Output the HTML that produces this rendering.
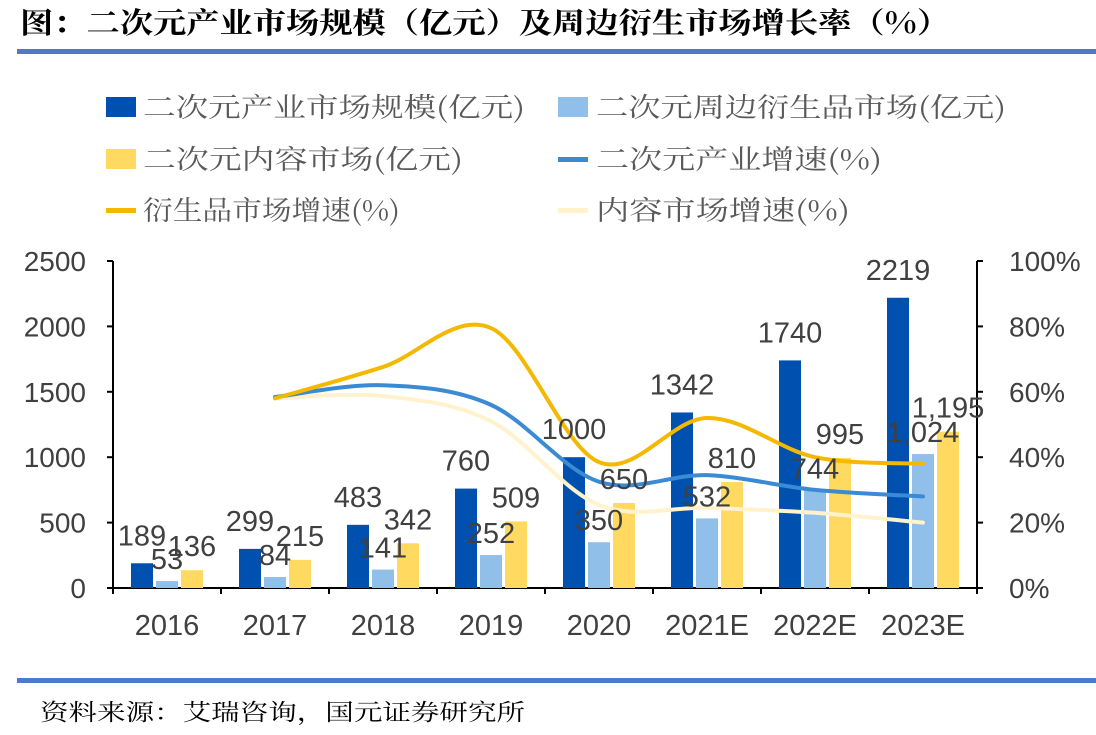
<!DOCTYPE html>
<html><head><meta charset="utf-8">
<style>
body{margin:0;width:1096px;height:730px;background:#fff;overflow:hidden;font-family:"Liberation Sans","Noto Sans CJK SC",sans-serif}
</style></head>
<body>
<svg id="c" width="1096" height="730" xmlns="http://www.w3.org/2000/svg">
<text x="20" y="33" font-size="29" font-weight="bold" fill="#000" textLength="930" lengthAdjust="spacingAndGlyphs" font-family="Noto Serif CJK SC, Noto Sans CJK SC, serif">图：二次元产业市场规模（亿元）及周边衍生市场增长率（%）</text>
<rect x="17" y="49" width="1079" height="5" fill="#4a7cc8"/>
<rect x="17" y="678" width="1079" height="5" fill="#4a7cc8"/>
<text x="40" y="720" font-size="23" fill="#000" textLength="485" lengthAdjust="spacingAndGlyphs" font-family="Noto Serif CJK SC, serif">资料来源：艾瑞咨询，国元证券研究所</text>
<g id="legend" font-size="27" fill="#595959" font-family="Noto Serif CJK SC, Noto Sans CJK SC, serif">
<g><rect x="106" y="97" width="30" height="20" fill="#0050b0"/><text x="143" y="117" textLength="382" lengthAdjust="spacingAndGlyphs">二次元产业市场规模(亿元)</text></g>
<g><rect x="558" y="97" width="30" height="20" fill="#90bfea"/><text x="596" y="117" textLength="410" lengthAdjust="spacingAndGlyphs">二次元周边衍生品市场(亿元)</text></g>
<g><rect x="106" y="149" width="30" height="20" fill="#ffd960"/><text x="143" y="169" textLength="320" lengthAdjust="spacingAndGlyphs">二次元内容市场(亿元)</text></g>
<g><rect x="558" y="157" width="30" height="5" fill="#3a8ad4"/><text x="596" y="169" textLength="286" lengthAdjust="spacingAndGlyphs">二次元产业增速(%)</text></g>
<g><rect x="106" y="208" width="30" height="5" fill="#f5b800"/><text x="143" y="220" textLength="257" lengthAdjust="spacingAndGlyphs">衍生品市场增速(%)</text></g>
<g><rect x="558" y="208" width="30" height="5" fill="#fff2cc"/><text x="596" y="220" textLength="254" lengthAdjust="spacingAndGlyphs">内容市场增速(%)</text></g>
</g>
<g id="plot"></g>
</svg>
<script>
const categories=["2016","2017","2018","2019","2020","2021E","2022E","2023E"];
const industry=[189,299,483,760,1000,1342,1740,2219];
const derivative=[53,84,141,252,350,532,744,1024];
const content=[136,215,342,509,650,810,995,1195];
const derivativeLabels=["53","84","141","252","350","532","744","1,024"];
const contentLabels=["136","215","342","509","650","810","995","1,195"];
const industryGrowth=[null,58.4,62,56,32.5,34.5,30,28];
const derivGrowth=[null,58,67.6,79.5,38.5,52,40,38];
const contentGrowth=[null,58,58.7,51,25.4,24.5,23,20];
const leftTicks=[0,500,1000,1500,2000,2500];
const rightTicks=[0,20,40,60,80,100];

const NS="http://www.w3.org/2000/svg";
const g=document.getElementById('plot');
const X0=113,X1=977,Y0=588,YT=261;
const bw=(X1-X0)/categories.length;
const yL=v=>Y0-(v/2500)*(Y0-YT);
const yR=v=>Y0-(v/100)*(Y0-YT);
const xc=i=>X0+bw*(i+0.5);
function el(t,a,p){const e=document.createElementNS(NS,t);for(const k in a)e.setAttribute(k,a[k]);(p||g).appendChild(e);return e;}
function txt(x,y,s,anchor,size,fill){const e=el('text',{x:x,y:y,'text-anchor':anchor,'font-size':size,fill:fill||'#404040'});e.textContent=s;return e;}

let ax=el('path',{d:`M${X0},${YT}V${Y0}H${X1}V${YT}`,stroke:'#000','stroke-width':2,fill:'none'});


leftTicks.forEach(v=>{
  let t=el('line',{x1:X0-6,x2:X0,y1:yL(v),y2:yL(v),stroke:'#000','stroke-width':2});
  
  
  let l=txt(X0-27,yL(v)+10,String(v),'end',28);
  
  
});
rightTicks.forEach(v=>{
  let t=el('line',{x1:X1,x2:X1+6,y1:yR(v),y2:yR(v),stroke:'#000','stroke-width':2});
  
  
  let l=txt(X1+32,yR(v)+10,v+'%','start',28);
  
  
});
for(let i=0;i<=categories.length;i++){
  let t=el('line',{x1:X0+bw*i,x2:X0+bw*i,y1:Y0,y2:Y0+6,stroke:'#000','stroke-width':2});
  
  
}
categories.forEach((c,i)=>{
  let l=txt(xc(i),Y0+47,c,'middle',29);
  
  
});
const W=22,G=3;
const series=[[industry,'#0050b0',industry.map(String),-1,18],[derivative,'#90bfea',derivativeLabels,0,12],[content,'#ffd960',contentLabels,1,14]];
series.forEach(([vals,col,labs,k])=>{
  vals.forEach((v,i)=>{
    const x=xc(i)+k*(W+G)-W/2;
    let r=el('rect',{x:x,y:yL(v),width:W,height:Y0-yL(v),fill:col});
    
    
  });
});
function path(vals){
  const pts=vals.map((v,i)=>v==null?null:[xc(i),yR(v)]).filter(p=>p);
  let d=`M${pts[0][0]},${pts[0][1]}`;
  for(let i=0;i<pts.length-1;i++){
    const p0=pts[Math.max(0,i-1)],p1=pts[i],p2=pts[i+1],p3=pts[Math.min(pts.length-1,i+2)];
    const c1=[p1[0]+(p2[0]-p0[0])/6,p1[1]+(p2[1]-p0[1])/6];
    const c2=[p2[0]-(p3[0]-p1[0])/6,p2[1]-(p3[1]-p1[1])/6];
    d+=`C${c1[0]},${c1[1]} ${c2[0]},${c2[1]} ${p2[0]},${p2[1]}`;
  }
  return d;
}
[[contentGrowth,'#fff2cc','content-growth-line'],[industryGrowth,'#3a8ad4','industry-growth-line'],[derivGrowth,'#f5b800','derivative-growth-line']].forEach(([v,c,n])=>{
  let p=el('path',{d:path(v),stroke:c,'stroke-width':4,fill:'none','stroke-linecap':'round'});
  
  
});
series.forEach(([vals,col,labs,k,off])=>{
  vals.forEach((v,i)=>{
    const x=xc(i)+k*(W+G);
    let l=txt(x,yL(v)-off,labs[i],'middle',29);
    
    
  });
});
</script>
</body></html>
